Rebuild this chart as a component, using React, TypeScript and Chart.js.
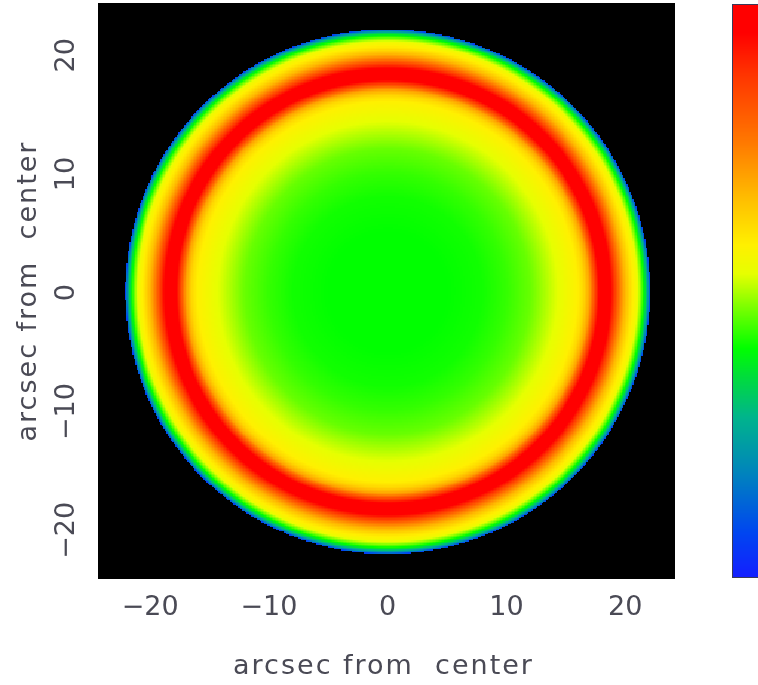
import React, { useEffect, useRef } from "react";
import { Chart, registerables } from "chart.js";

Chart.register(...registerables);

// Axis ranges (arcsec from center)
const X_RANGE = [-24.4, 24.2];
const Y_RANGE = [-24.1, 24.4];
const X_TICKS = [-20, -10, 0, 10, 20];
const Y_TICKS = [-20, -10, 0, 10, 20];
const X_TITLE = "arcsec from  center";
const Y_TITLE = "arcsec from  center";

// Radial intensity profile of the disk (normalised 0..1)
const PROFILE_RADIUS = [0, 5, 8, 10, 12, 13, 14, 15, 16, 16.5, 17, 17.4, 17.8, 18.3, 18.8, 19.2, 19.6, 20, 20.5, 21, 21.4, 21.7, 21.95, 22.1];
const PROFILE_VALUE = [0.4, 0.4, 0.41, 0.43, 0.46, 0.49, 0.52, 0.55, 0.58, 0.62, 0.7, 0.83, 0.95, 1.0, 0.95, 0.85, 0.75, 0.67, 0.6, 0.55, 0.45, 0.35, 0.2, 0.06];
const DISK_CENTER = [0, 0.1];
const CELL = 0.125;

// Rainbow colour table (value -> rgb)
const CMAP_POS = [0.0, 0.08, 0.18, 0.28, 0.35, 0.4, 0.47, 0.53, 0.58, 0.66, 0.76, 0.88, 0.95, 1.0];
const CMAP_R = [20, 0, 0, 0, 0, 0, 120, 230, 255, 255, 255, 255, 255, 255];
const CMAP_G = [30, 70, 130, 180, 220, 255, 255, 255, 240, 190, 120, 50, 0, 0];
const CMAP_B = [255, 240, 190, 140, 60, 0, 0, 0, 0, 0, 0, 0, 0, 0];

function lerpTable(xs: number[], ys: number[], x: number) {
  if (x <= xs[0]) return ys[0];
  for (let i = 1; i < xs.length; i++) {
    if (x <= xs[i]) {
      const t = (x - xs[i - 1]) / (xs[i] - xs[i - 1]);
      return ys[i - 1] + t * (ys[i] - ys[i - 1]);
    }
  }
  return ys[ys.length - 1];
}

const colorCache: Record<number, string> = {};
function colorFor(v: number) {
  const q = Math.round(Math.max(0, Math.min(1, v)) * 1023);
  if (colorCache[q]) return colorCache[q];
  const val = q / 1023;
  const r = Math.round(lerpTable(CMAP_POS, CMAP_R, val));
  const g = Math.round(lerpTable(CMAP_POS, CMAP_G, val));
  const b = Math.round(lerpTable(CMAP_POS, CMAP_B, val));
  const s = `rgb(${r},${g},${b})`;
  colorCache[q] = s;
  return s;
}

const TEXT_COLOR = "#4a4a55";
const TICK_FONT = "27px 'DejaVu Sans'";
const TITLE_FONT = "27px 'DejaVu Sans'";

const heatmapPlugin = {
  id: "diskHeatmap",
  beforeDatasetsDraw(chart: any) {
    const { ctx, chartArea, scales } = chart;
    const xs = scales.x;
    const ys = scales.y;
    ctx.save();
    ctx.beginPath();
    ctx.rect(chartArea.left, chartArea.top, chartArea.right - chartArea.left, chartArea.bottom - chartArea.top);
    ctx.clip();
    ctx.fillStyle = "#000000";
    ctx.fillRect(chartArea.left, chartArea.top, chartArea.right - chartArea.left, chartArea.bottom - chartArea.top);
    const rMax = PROFILE_RADIUS[PROFILE_RADIUS.length - 1];
    const nx = Math.ceil((X_RANGE[1] - X_RANGE[0]) / CELL);
    const ny = Math.ceil((Y_RANGE[1] - Y_RANGE[0]) / CELL);
    for (let i = 0; i < nx; i++) {
      const x0 = X_RANGE[0] + i * CELL;
      const x1 = x0 + CELL;
      const xc = x0 + CELL / 2 - DISK_CENTER[0];
      if (Math.abs(xc) > rMax + CELL) continue;
      const px0 = Math.round(xs.getPixelForValue(x0));
      const px1 = Math.round(xs.getPixelForValue(x1));
      for (let j = 0; j < ny; j++) {
        const y0 = Y_RANGE[0] + j * CELL;
        const y1 = y0 + CELL;
        const yc = y0 + CELL / 2 - DISK_CENTER[1];
        const r = Math.sqrt(xc * xc + yc * yc);
        if (r > rMax) continue;
        const v = lerpTable(PROFILE_RADIUS, PROFILE_VALUE, r);
        const py0 = Math.round(ys.getPixelForValue(y1));
        const py1 = Math.round(ys.getPixelForValue(y0));
        ctx.fillStyle = colorFor(v);
        ctx.fillRect(px0, py0, px1 - px0, py1 - py0);
      }
    }
    ctx.restore();
  },
  afterDraw(chart: any) {
    const { ctx, chartArea, scales } = chart;
    const xs = scales.x;
    const ys = scales.y;
    ctx.save();
    ctx.fillStyle = TEXT_COLOR;
    // x tick labels
    ctx.font = TICK_FONT;
    ctx.textAlign = "center";
    ctx.textBaseline = "middle";
    X_TICKS.forEach((t) => {
      const label = t < 0 ? "\u2212" + Math.abs(t) : String(t);
      ctx.fillText(label, xs.getPixelForValue(t), chartArea.bottom + 29);
    });
    // y tick labels (rotated)
    Y_TICKS.forEach((t) => {
      const label = t < 0 ? "\u2212" + Math.abs(t) : String(t);
      ctx.save();
      ctx.translate(chartArea.left - 31, ys.getPixelForValue(t));
      ctx.rotate(-Math.PI / 2);
      ctx.fillText(label, 0, 0);
      ctx.restore();
    });
    // titles
    ctx.font = TITLE_FONT;
    (ctx as any).letterSpacing = "2px";
    ctx.fillText(X_TITLE, (chartArea.left + chartArea.right) / 2 - 3, chartArea.bottom + 88);
    ctx.save();
    ctx.translate(chartArea.left - 69, (chartArea.top + chartArea.bottom) / 2);
    ctx.rotate(-Math.PI / 2);
    ctx.fillText(Y_TITLE, 0, 0);
    ctx.restore();
    (ctx as any).letterSpacing = "0px";

    // colour bar
    const cbLeft = chartArea.right + 57;
    const cbTop = chartArea.top + 1;
    const cbBottom = chartArea.bottom - 1;
    const cbWidth = 40;
    const h = cbBottom - cbTop;
    for (let k = 0; k < h; k++) {
      const v = 1 - (k + 0.5) / h;
      ctx.fillStyle = colorFor(v);
      ctx.fillRect(cbLeft, cbTop + k, cbWidth, 1);
    }
    ctx.strokeStyle = "#3a3a5a";
    ctx.lineWidth = 1;
    ctx.strokeRect(cbLeft + 0.5, cbTop + 0.5, cbWidth, h - 1);
    ctx.restore();
  },
};

export default function App() {
  const canvasRef = useRef<HTMLCanvasElement | null>(null);
  useEffect(() => {
    document.body.style.margin = "0";
    const canvas = canvasRef.current;
    if (!canvas) return;
    const chart = new Chart(canvas, {
      type: "scatter",
      data: { datasets: [{ data: [], pointRadius: 0 }] },
      options: {
        animation: false,
        responsive: false,
        maintainAspectRatio: false,
        layout: { padding: { top: 3, right: 83, left: 0, bottom: 0 } },
        plugins: { legend: { display: false }, tooltip: { enabled: false } },
        scales: {
          x: {
            type: "linear",
            min: X_RANGE[0],
            max: X_RANGE[1],
            grid: { display: false },
            border: { display: false },
            ticks: { display: false },
            afterFit: (s: any) => {
              s.height = 106;
            },
          },
          y: {
            type: "linear",
            min: Y_RANGE[0],
            max: Y_RANGE[1],
            grid: { display: false },
            border: { display: false },
            ticks: { display: false },
            afterFit: (s: any) => {
              s.width = 98;
            },
          },
        },
      },
      plugins: [heatmapPlugin],
    } as any);
    return () => chart.destroy();
  }, []);
  return (
    <div style={{ position: "absolute", left: 0, top: 0, width: 758, height: 685, background: "#fff" }}>
      <canvas ref={canvasRef} width={758} height={685} style={{ width: 758, height: 685, display: "block" }} />
    </div>
  );
}
